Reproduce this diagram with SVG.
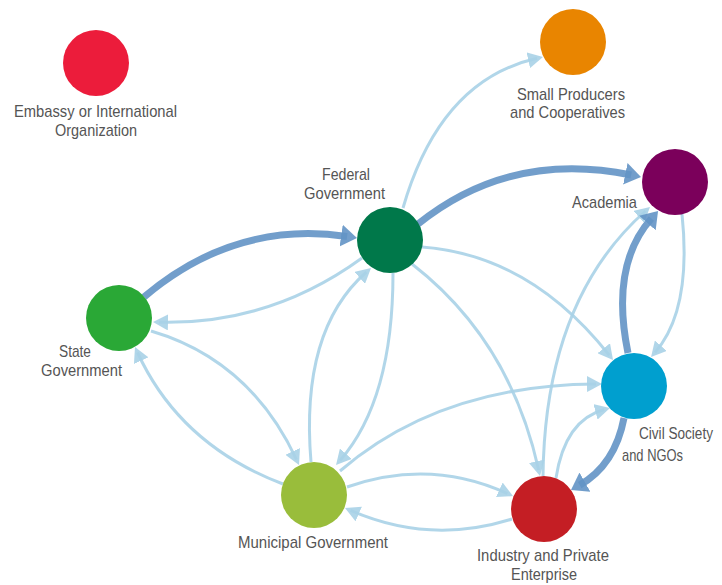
<svg xmlns="http://www.w3.org/2000/svg" width="722" height="585" viewBox="0 0 722 585">
<style>
.thin{fill:none;stroke:#a9d1e7;stroke-width:3;stroke-opacity:0.9;marker-end:url(#ah)}
.thick{fill:none;stroke:#6393c5;stroke-width:7;stroke-opacity:0.9;marker-end:url(#ahk)}
.lbl{font-family:"Liberation Sans",Arial,sans-serif;font-size:17px;fill:#555}
</style>
<defs>
<marker id="ah" markerUnits="userSpaceOnUse" markerWidth="16" markerHeight="16" refX="9" refY="8" orient="auto">
<path d="M0,0 L15,8 L0,16 z" fill="#a9d1e7" fill-opacity="0.9"/>
</marker>
<marker id="ahk" markerUnits="userSpaceOnUse" markerWidth="18" markerHeight="24" refX="6" refY="12" orient="auto">
<path d="M0,1 L16,12 L0,23 z" fill="#6393c5" fill-opacity="0.9"/>
</marker>
</defs>
<rect width="722" height="585" fill="#fff"/>
<g id="connectors">
<path class="thin" d="M403,208 Q440,80 537.1,58.3"/>
<path class="thin" d="M362,258 Q270,325 159,322.2"/>
<path class="thin" d="M311,462 Q300,330 366.5,272"/>
<path class="thin" d="M393,273 Q393,400 340,460.5"/>
<path class="thin" d="M422,247 Q530,255 609.3,355.3"/>
<path class="thin" d="M412,264 Q510,340 538.7,470.1"/>
<path class="thin" d="M151,331 Q250,360 296.5,459.6"/>
<path class="thin" d="M283,484 Q180,445 137.5,352.5"/>
<path class="thin" d="M340,471 Q440,385 596,384"/>
<path class="thin" d="M347,487 Q430,458 507.5,493.6"/>
<path class="thin" d="M512,519 Q430,545 350.5,510.4"/>
<path class="thin" d="M543,476 Q545,300 645.5,211"/>
<path class="thin" d="M556,478 Q565,420 604.2,409.5"/>
<path class="thin" d="M682,214 Q692,310 655,352.5"/>
<path class="thick" d="M144,297 Q235,220 347.1,236.5"/>
<path class="thick" d="M418,224 Q510,150 631.2,175"/>
<path class="thick" d="M628,353 Q610,265 651.4,218.5"/>
<path class="thick" d="M624,418 Q615,465 579.7,485.1"/>
</g>
<g id="embassy">
<circle cx="96" cy="63" r="33" fill="#ec1c3b"/>
<text class="lbl" x="14" y="117" textLength="163" lengthAdjust="spacingAndGlyphs">Embassy or International</text>
<text class="lbl" x="55" y="136" textLength="82" lengthAdjust="spacingAndGlyphs">Organization</text>
</g>
<g id="small-producers">
<circle cx="573" cy="42" r="33" fill="#e98500"/>
<text class="lbl" x="517" y="100" textLength="108" lengthAdjust="spacingAndGlyphs">Small Producers</text>
<text class="lbl" x="510" y="118" textLength="115" lengthAdjust="spacingAndGlyphs">and Cooperatives</text>
</g>
<g id="federal">
<circle cx="390" cy="240" r="33" fill="#00784a"/>
<text class="lbl" x="322" y="180" textLength="48" lengthAdjust="spacingAndGlyphs">Federal</text>
<text class="lbl" x="304" y="199" textLength="81" lengthAdjust="spacingAndGlyphs">Government</text>
</g>
<g id="academia">
<circle cx="675" cy="182" r="33" fill="#7b005b"/>
<text class="lbl" x="572" y="208" textLength="65" lengthAdjust="spacingAndGlyphs">Academia</text>
</g>
<g id="state">
<circle cx="119" cy="318" r="33" fill="#2aa836"/>
<text class="lbl" x="59" y="357" textLength="32" lengthAdjust="spacingAndGlyphs">State</text>
<text class="lbl" x="41" y="376" textLength="81" lengthAdjust="spacingAndGlyphs">Government</text>
</g>
<g id="civil-society">
<circle cx="634" cy="386" r="33" fill="#009fcf"/>
<text class="lbl" transform="translate(639,439) scale(0.8,1)" x="0" y="0">Civil Society</text>
<text class="lbl" x="622" y="461" textLength="61" lengthAdjust="spacingAndGlyphs">and NGOs</text>
</g>
<g id="municipal">
<circle cx="314" cy="495" r="33" fill="#99bd3b"/>
<text class="lbl" x="238" y="548" textLength="150" lengthAdjust="spacingAndGlyphs">Municipal Government</text>
</g>
<g id="industry">
<circle cx="544" cy="509" r="33" fill="#c41e24"/>
<text class="lbl" x="477" y="561" textLength="132" lengthAdjust="spacingAndGlyphs">Industry and Private</text>
<text class="lbl" x="511" y="580" textLength="66" lengthAdjust="spacingAndGlyphs">Enterprise</text>
</g>
</svg>
